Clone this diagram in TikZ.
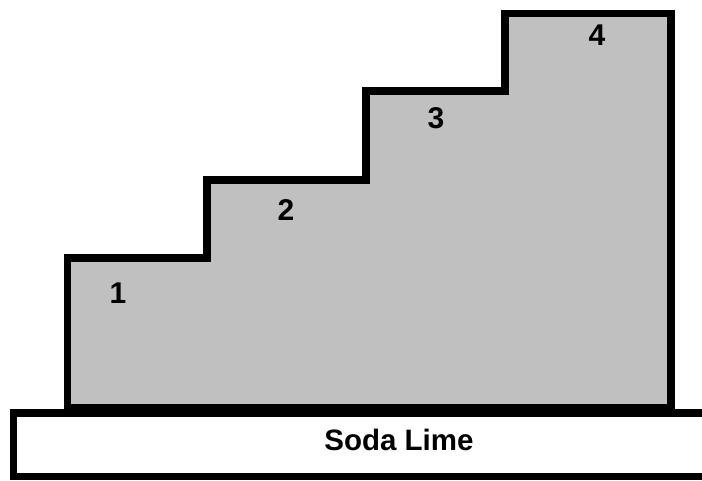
\documentclass[tikz,border=0pt]{standalone}
\usepackage{fontspec}
\setmainfont{Liberation Sans}
\usepackage{xcolor}
\definecolor{filmgray}{RGB}{192,192,192}
\begin{document}
\begin{tikzpicture}[
			     x=1pt, y=-1pt,
			     layer line/.style={draw=black, line width=7.5pt, line join=miter},
			     step label/.style={font=\fontsize{30}{36}\selectfont\bfseries, inner sep=0pt},
			     base label/.style={font=\fontsize{29.5}{35}\selectfont\bfseries, inner sep=0pt}
			     ]
\useasboundingbox (0,0) rectangle (702,480);
\path[layer line, fill=white] (13.5,413) rectangle (715,476.5);
\path[layer line, fill=filmgray] (67.5,408) -- (67.5,258) -- (207,258) -- (207,180) -- (366,180) -- (366,91) -- (505,91) -- (505,13.5) -- (671,13.5) -- (671,408) -- cycle;
\node[step label] (s1) at (118,293) {1};
\node[step label] (s2) at (286,210) {2};
\node[step label] (s3) at (436,118) {3};
\node[step label] (s4) at (597,35) {4};
\node[base label] (glass) at (399,439.5) {Soda Lime};
\end{tikzpicture}
\end{document}
